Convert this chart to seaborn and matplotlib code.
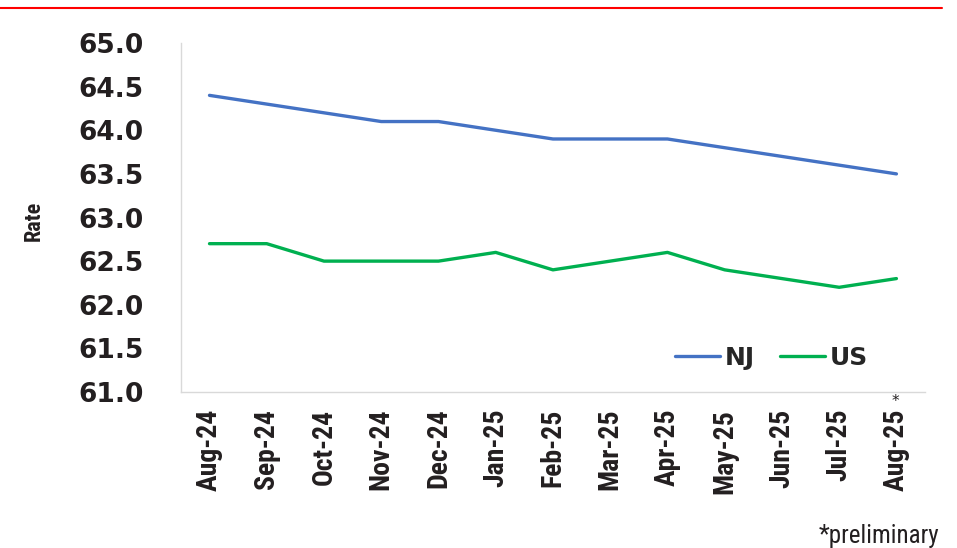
import matplotlib
matplotlib.use("Agg")
import matplotlib.pyplot as plt
import matplotlib.lines as mlines
from matplotlib import font_manager as fm
import seaborn as sns
import pandas as pd

months = ["Aug-24", "Sep-24", "Oct-24", "Nov-24", "Dec-24", "Jan-25", "Feb-25",
          "Mar-25", "Apr-25", "May-25", "Jun-25", "Jul-25", "Aug-25"]
nj = [64.4, 64.3, 64.2, 64.1, 64.1, 64.0, 63.9, 63.9, 63.9, 63.8, 63.7, 63.6, 63.5]
us = [62.7, 62.7, 62.5, 62.5, 62.5, 62.6, 62.4, 62.5, 62.6, 62.4, 62.3, 62.2, 62.3]
yticks = [61.0, 61.5, 62.0, 62.5, 63.0, 63.5, 64.0, 64.5, 65.0]

sns.set_theme(style="white")
plt.rcParams["font.family"] = ["DejaVu Sans"]

# condensed face for Calibri-like labels if available
names = {f.name for f in fm.fontManager.ttflist}
cond_family = None
for cand in ["Liberation Sans Narrow", "DejaVu Sans Condensed", "Roboto Condensed",
             "Open Sans Condensed"]:
    if cand in names:
        cond_family = cand
        break
if cond_family is None:
    cond_family = "DejaVu Sans"


def cond_font(size, weight="bold"):
    return fm.FontProperties(family=[cond_family, "DejaVu Sans"], weight=weight,
                             stretch="condensed", size=size)


df = pd.DataFrame({
    "pos": list(range(len(months))) * 2,
    "Rate": nj + us,
    "Series": ["NJ"] * len(months) + ["US"] * len(months),
})

fig = plt.figure(figsize=(9.57, 5.48), dpi=100)
ax = fig.add_axes([0.189, 0.2847, 0.7776, 0.6368])

palette = {"NJ": "#4472C4", "US": "#00B050"}
sns.lineplot(data=df, x="pos", y="Rate", hue="Series", palette=palette,
             linewidth=2.4, ax=ax, legend=False, sort=False)

ax.set_xlim(-0.5, len(months) - 0.5)
ax.set_ylim(61.0, 65.0)
ax.set_yticks(yticks)
ax.set_yticklabels([f"{v:.1f}" for v in yticks], fontsize=19, fontweight="bold",
                   color="#231F20")
ax.set_xticks(range(len(months)))
ax.set_xticklabels(months, rotation=90, color="#231F20", fontproperties=cond_font(20))
ax.tick_params(axis="both", length=0)
ax.tick_params(axis="y", pad=27)
ax.tick_params(axis="x", pad=12)
ax.set_xlabel("")
ax.set_ylabel("Rate", color="#231F20", fontproperties=cond_font(16))
ax.yaxis.set_label_coords(-0.183, 0.49)

for side in ["top", "right"]:
    ax.spines[side].set_visible(False)
for side in ["left", "bottom"]:
    ax.spines[side].set_color("#D9D9D9")
    ax.spines[side].set_linewidth(1.0)

handles = [mlines.Line2D([], [], color=palette[k], linewidth=2.4) for k in ["NJ", "US"]]
ax.legend(handles, ["NJ", "US"], loc="center right", bbox_to_anchor=(0.937, 0.097),
          borderaxespad=0, ncol=2, frameon=False, handlelength=1.8,
          handletextpad=0.2, columnspacing=1.0,
          prop={"weight": "bold", "size": 18})

# asterisk marking preliminary value
ax.annotate("*", xy=(len(months) - 1, 0), xycoords=ax.get_xaxis_transform(),
            xytext=(-1, -6.5), textcoords="offset points", ha="center", va="center",
            fontsize=11, color="#231F20")

fig.text(0.982, 0.0, "*preliminary", ha="right", va="bottom",
         fontproperties=cond_font(18, "normal"), color="#231F20")

fig.add_artist(mlines.Line2D([0, 0.984], [0.9854, 0.9854], color="red",
                             linewidth=1.5, transform=fig.transFigure))

fig.savefig("out.png", dpi=100)
